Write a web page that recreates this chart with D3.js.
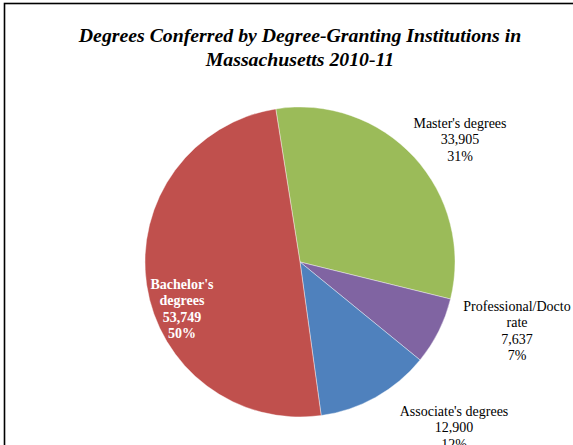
<!DOCTYPE html>
<html>
<head>
<meta charset="utf-8">
<script src="https://cdn.jsdelivr.net/npm/d3@7"></script>
<style>
  body { margin: 0; background: #fff; }
  svg text { font-family: "Liberation Serif", "Times New Roman", serif; }
</style>
</head>
<body>
<div id="chart"></div>
<script>
var categories = ["Master's degrees", "Professional/Doctorate", "Associate's degrees", "Bachelor's degrees"];
var values = [33905, 7637, 12900, 53749];
var labelLines = [["Master's degrees"], ["Professional/Docto", "rate"], ["Associate's degrees"], ["Bachelor's", "degrees"]];
var colors = ["#9BBB59", "#8064A2", "#4F81BD", "#C0504D"];

var width = 573, height = 445;
var cx = 300, cy = 262, radius = 155;
var firstSliceAngle = -9; // degrees, Excel "angle of first slice"

// label anchor: [x, baseline of first line]
var labelPos = [[460, 128], [517, 311], [454, 416], [182, 289]];
var lineHeight = 16.3;

var svg = d3.select("#chart").append("svg")
    .attr("width", width)
    .attr("height", height);

// chart border (top-left edges visible)
svg.append("rect")
    .attr("x", 4.5).attr("y", 3.5)
    .attr("width", width + 10).attr("height", height + 10)
    .attr("fill", "none")
    .attr("stroke", "#000")
    .attr("stroke-width", 1.6);

svg.append("text")
    .attr("x", 300).attr("y", 42)
    .attr("text-anchor", "middle")
    .attr("font-size", "19.8px")
    .attr("font-weight", "bold")
    .attr("font-style", "italic")
    .text("Degrees Conferred by Degree-Granting Institutions in");
svg.append("text")
    .attr("x", 300).attr("y", 66)
    .attr("text-anchor", "middle")
    .attr("font-size", "19.8px")
    .attr("font-weight", "bold")
    .attr("font-style", "italic")
    .text("Massachusetts 2010-11");

var total = d3.sum(values);
var data = categories.map(function (c, i) {
    return { name: c, value: values[i], i: i };
});

var rad = Math.PI / 180;
var pie = d3.pie()
    .sort(null)
    .value(function (d) { return d.value; })
    .startAngle(firstSliceAngle * rad)
    .endAngle((firstSliceAngle + 360) * rad);

var arc = d3.arc().innerRadius(0).outerRadius(radius);

var g = svg.append("g").attr("transform", "translate(" + cx + "," + cy + ")");

g.selectAll("path")
    .data(pie(data))
    .enter().append("path")
    .attr("d", arc)
    .attr("fill", function (d) { return colors[d.data.i]; })
    .attr("stroke", "#fff")
    .attr("stroke-width", 0.4);

var fmt = d3.format(",");
var pct = d3.format(".0%");

data.forEach(function (d, i) {
    var lines = labelLines[i].concat([fmt(d.value), pct(d.value / total)]);
    var inside = i === 3;
    var t = svg.append("text")
        .attr("text-anchor", "middle")
        .attr("font-size", "14px")
        .attr("font-weight", inside ? "bold" : "normal")
        .attr("fill", inside ? "#fff" : "#000");
    lines.forEach(function (l, j) {
        t.append("tspan")
            .attr("x", labelPos[i][0])
            .attr("y", labelPos[i][1] + j * lineHeight)
            .text(l);
    });
});
</script>
</body>
</html>
